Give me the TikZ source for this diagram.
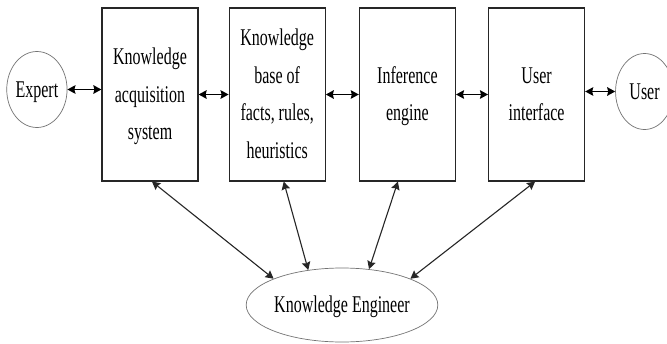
\documentclass[tikz,border=0pt]{standalone}
\usepackage{fontspec}
\setmainfont{Liberation Serif}
\usetikzlibrary{arrows.meta,shapes.geometric,positioning}
\newcommand{\tallcell}[1]{\scalebox{1}[1.5]{\begin{tabular}{@{}c@{}}#1\end{tabular}}}

\begin{document}
\begin{tikzpicture}[x=1pt,y=-1pt,node distance=31pt,>={Stealth[length=8pt,width=8.5pt,inset=1pt]},
        font=\fontsize{16}{25}\selectfont]
        \tikzstyle{stage}=[rectangle,draw=black!85,line width=1.2pt,minimum width=96pt,minimum height=173pt,inner sep=0pt]
        \tikzstyle{person}=[ellipse,draw=black!55,line width=0.7pt,minimum width=60pt,minimum height=76pt,inner sep=0pt]
        \tikzstyle{link}=[<->,line width=1.6pt]
        \tikzstyle{spoke}=[<->,line width=1.1pt,draw=black!85]

        \useasboundingbox (0,0) rectangle (667,343);
        \fill [white] (0,0) rectangle (667,343);

        \node [stage] (acq) at (150,94.5) {\tallcell{Knowledge\\acquisition\\system}}; %acquisition
        \node [stage] (base) [right=30pt of acq] {\tallcell{Knowledge\\base of\\facts, rules,\\heuristics}};
        \node [stage] (infer) [right=33pt of base] {\tallcell{Inference\\engine}};
        \node [stage] (ui) [right=32pt of infer] {\tallcell{User\\interface}};

        \node [person] (expert) [left=34pt of acq, yshift=5pt] {\tallcell{Expert}};
        \node [person, minimum width=58pt] (user) [right=30pt of ui, yshift=3pt] {\tallcell{User}};
        \node [person, minimum width=187pt, minimum height=74pt] (eng) at (342,305) {\tallcell{Knowledge Engineer}};

        % chain
        \draw [link] (expert.east) -- (expert.east -| acq.west);
        \draw [link] (acq) -- (base);
        \draw [link] (base) -- (infer);
        \draw [link] (infer) -- (ui);
        \draw [link] (user.west) -- (user.west -| ui.east);

        % to the engineer
        \draw [spoke] ([xshift=2pt]acq.south) -- (eng.159);
        \draw [spoke] ([xshift=6.5pt]base.south) -- (eng.134);
        \draw [spoke] ([xshift=-9.5pt]infer.south) -- (eng.53);
        \draw [spoke] ([xshift=-1.5pt]ui.south) -- (eng.21);
\end{tikzpicture}
\end{document}
